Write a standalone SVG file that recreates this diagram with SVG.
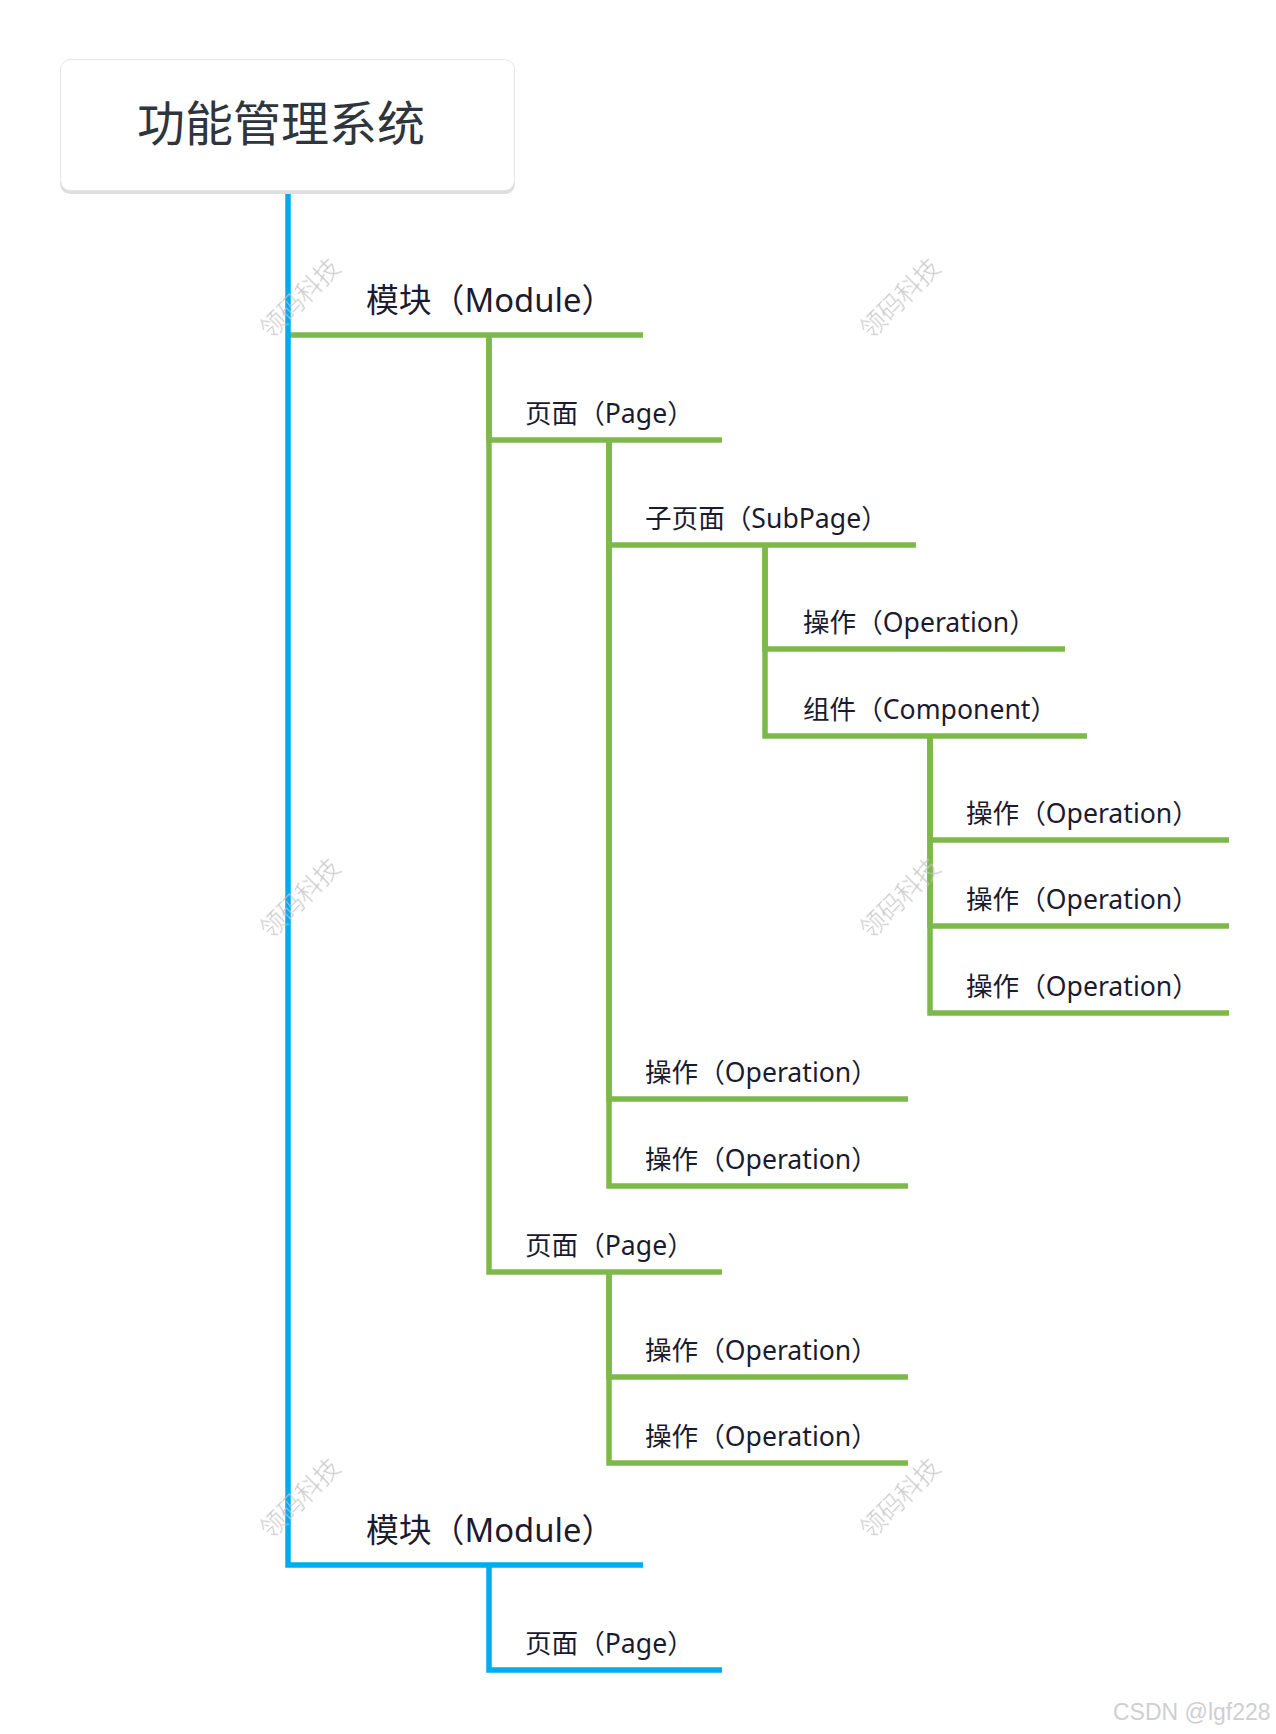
<svg xmlns="http://www.w3.org/2000/svg" width="1276" height="1734" viewBox="0 0 1276 1734">
<defs>
<style>
.t{font-family:"Noto Sans","Noto Sans CJK SC",sans-serif;fill:#1b1b30}
.m{font-size:32.8px}
.p{font-size:26.6px}
.g{fill:none;stroke:#7cb94a;stroke-width:5.5;stroke-linejoin:miter}
.b{fill:none;stroke:#00acef;stroke-width:5.5;stroke-linejoin:miter}
.wm{font-family:"Noto Sans CJK SC",sans-serif;font-size:25px;font-weight:300;fill:#c2c2c2;text-anchor:middle}
</style>
</defs>
<rect width="1276" height="1734" fill="#ffffff"/>
<g id="connectors">
<path class="g" d="M288,335 H643"/>
<path class="b" d="M288,192 V1565 H643"/>
<path class="g" d="M489,335 V440 H722"/>
<path class="g" d="M489,335 V1272 H722"/>
<path class="g" d="M609,440 V545 H916"/>
<path class="g" d="M609,440 V1099 H908"/>
<path class="g" d="M609,440 V1186 H908"/>
<path class="g" d="M765,545 V649 H1065"/>
<path class="g" d="M765,545 V736 H1087"/>
<path class="g" d="M930,736 V840 H1229"/>
<path class="g" d="M930,736 V926 H1229"/>
<path class="g" d="M930,736 V1013 H1229"/>
<path class="g" d="M609,1272 V1377 H908"/>
<path class="g" d="M609,1272 V1463 H908"/>
<path class="b" d="M489,1565 V1670 H722"/>
</g>
<g id="root">
<rect x="60" y="62" width="455" height="132" rx="10" fill="#dedede"/>
<rect x="60.5" y="59.5" width="454" height="131" rx="10" fill="#ffffff" stroke="#e6e6e6" stroke-width="1"/>
<text x="137" y="141" style="font-family:'Noto Sans CJK SC',sans-serif;font-size:48px;fill:#2f353d">功能管理系统</text>
</g>
<g id="module1"><text class="t m" x="366" y="312">模块（Module）</text></g>
<g id="page1"><text class="t p" x="525" y="423">页面（Page）</text></g>
<g id="subpage1"><text class="t p" x="645" y="528">子页面（SubPage）</text></g>
<g id="op1"><text class="t p" x="803" y="632">操作（Operation）</text></g>
<g id="component1"><text class="t p" x="803" y="719">组件（Component）</text></g>
<g id="op2"><text class="t p" x="966" y="823">操作（Operation）</text></g>
<g id="op3"><text class="t p" x="966" y="909">操作（Operation）</text></g>
<g id="op4"><text class="t p" x="966" y="996">操作（Operation）</text></g>
<g id="op5"><text class="t p" x="645" y="1082">操作（Operation）</text></g>
<g id="op6"><text class="t p" x="645" y="1169">操作（Operation）</text></g>
<g id="page2"><text class="t p" x="525" y="1255">页面（Page）</text></g>
<g id="op7"><text class="t p" x="645" y="1360">操作（Operation）</text></g>
<g id="op8"><text class="t p" x="645" y="1446">操作（Operation）</text></g>
<g id="module2"><text class="t m" x="366" y="1542">模块（Module）</text></g>
<g id="page3"><text class="t p" x="525" y="1653">页面（Page）</text></g>
<g id="watermarks" opacity="0.9">
<text class="wm" transform="translate(300,298) rotate(-45)" y="9">领码科技</text>
<text class="wm" transform="translate(900,298) rotate(-45)" y="9">领码科技</text>
<text class="wm" transform="translate(300,898) rotate(-45)" y="9">领码科技</text>
<text class="wm" transform="translate(900,898) rotate(-45)" y="9">领码科技</text>
<text class="wm" transform="translate(300,1498) rotate(-45)" y="9">领码科技</text>
<text class="wm" transform="translate(900,1498) rotate(-45)" y="9">领码科技</text>
</g>
<text x="1113" y="1720" style="font-family:'Liberation Sans',sans-serif;font-size:23px;fill:#cfcfcf">CSDN @lgf228</text>
</svg>
